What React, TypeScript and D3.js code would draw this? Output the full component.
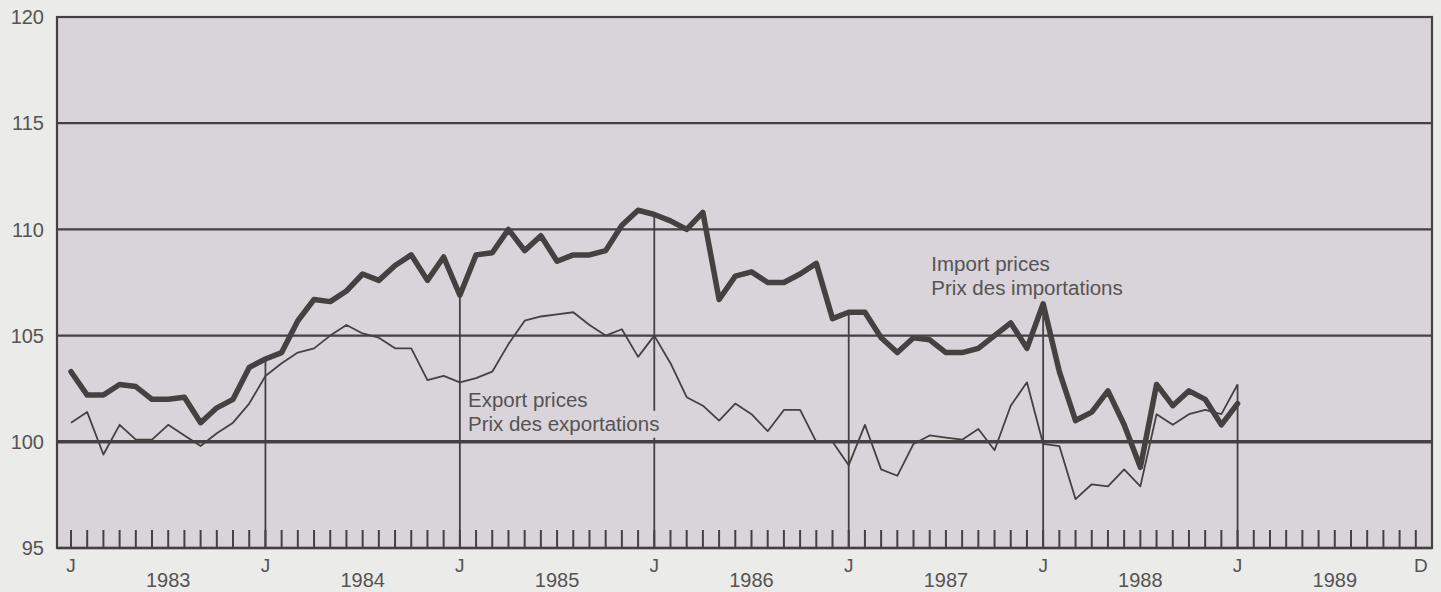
import React, { useRef, useEffect } from 'react';
import * as d3 from 'd3';

// monthly index values, Jan 1983 .. Jan 1989
const importPrices = [
  103.3, 102.2, 102.2, 102.7, 102.6, 102.0, 102.0, 102.1, 100.9, 101.6, 102.0, 103.5,
  103.9, 104.2, 105.7, 106.7, 106.6, 107.1, 107.9, 107.6, 108.3, 108.8, 107.6, 108.7,
  106.9, 108.8, 108.9, 110.0, 109.0, 109.7, 108.5, 108.8, 108.8, 109.0, 110.2, 110.9,
  110.7, 110.4, 110.0, 110.8, 106.7, 107.8, 108.0, 107.5, 107.5, 107.9, 108.4, 105.8,
  106.1, 106.1, 104.9, 104.2, 104.9, 104.8, 104.2, 104.2, 104.4, 105.0, 105.6, 104.4,
  106.5, 103.3, 101.0, 101.4, 102.4, 100.8, 98.8, 102.7, 101.7, 102.4, 102.0, 100.8,
  101.8,
];

const exportPrices = [
  100.9, 101.4, 99.4, 100.8, 100.1, 100.1, 100.8, 100.3, 99.8, 100.4, 100.9, 101.8,
  103.1, 103.7, 104.2, 104.4, 105.0, 105.5, 105.1, 104.9, 104.4, 104.4, 102.9, 103.1,
  102.8, 103.0, 103.3, 104.6, 105.7, 105.9, 106.0, 106.1, 105.5, 105.0, 105.3, 104.0,
  105.0, 103.7, 102.1, 101.7, 101.0, 101.8, 101.3, 100.5, 101.5, 101.5, 100.0, 100.0,
  98.9, 100.8, 98.7, 98.4, 99.9, 100.3, 100.2, 100.1, 100.6, 99.6, 101.7, 102.8,
  99.9, 99.8, 97.3, 98.0, 97.9, 98.7, 97.9, 101.3, 100.8, 101.3, 101.5, 101.3,
  102.7,
];

const years = ['1983', '1984', '1985', '1986', '1987', '1988', '1989'];
const yTicks = [95, 100, 105, 110, 115, 120];
const gridValues = [100, 105, 110, 115];
const exportLabel = ['Export prices', 'Prix des exportations'];
const importLabel = ['Import prices', 'Prix des importations'];

const WIDTH = 1441;
const HEIGHT = 592;
const PAGE_BG = '#ebebe9';
const PLOT_BG = '#d8d4da';
const INK = '#454141';
const TEXT = '#555353';
const FONT = '"Liberation Sans", Arial, Helvetica, sans-serif';

export default function App() {
  const svgRef = useRef<SVGSVGElement>(null);

  useEffect(() => {
    if (!svgRef.current) return;
    const svg = d3.select(svgRef.current);
    svg.selectAll('*').remove();

    const nMonths = years.length * 12;
    const x = d3.scaleLinear().domain([0, nMonths]).range([71, 1432]);
    const y = d3.scaleLinear().domain([95, 120]).range([548, 17]);
    const plotLeft = 57;

    svg.append('rect').attr('width', WIDTH).attr('height', HEIGHT).attr('fill', PAGE_BG);

    // plot area
    svg
      .append('rect')
      .attr('x', plotLeft)
      .attr('y', y(120))
      .attr('width', x(nMonths) - plotLeft)
      .attr('height', y(95) - y(120))
      .attr('fill', PLOT_BG);

    // horizontal grid
    gridValues.forEach((v) => {
      svg
        .append('line')
        .attr('x1', plotLeft)
        .attr('x2', x(nMonths))
        .attr('y1', y(v))
        .attr('y2', y(v))
        .attr('stroke', INK)
        .attr('stroke-width', v === 100 ? 3.5 : 2.2);
    });

    // month ticks
    d3.range(nMonths).forEach((m) => {
      svg
        .append('line')
        .attr('x1', x(m))
        .attr('x2', x(m))
        .attr('y1', y(95))
        .attr('y2', y(95) - 18)
        .attr('stroke', INK)
        .attr('stroke-width', 2);
    });

    // January drop lines from the higher of the two series
    d3.range(12, importPrices.length, 12).forEach((m) => {
      const top = Math.max(importPrices[m], exportPrices[m]);
      svg
        .append('line')
        .attr('x1', x(m))
        .attr('x2', x(m))
        .attr('y1', y(top))
        .attr('y2', y(95))
        .attr('stroke', INK)
        .attr('stroke-width', 1.8);
    });

    const line = d3
      .line<number>()
      .x((_, i) => x(i))
      .y((d) => y(d));

    svg
      .append('path')
      .datum(exportPrices)
      .attr('d', line)
      .attr('fill', 'none')
      .attr('stroke', INK)
      .attr('stroke-width', 1.8)
      .attr('stroke-linejoin', 'round');

    svg
      .append('path')
      .datum(importPrices)
      .attr('d', line)
      .attr('fill', 'none')
      .attr('stroke', INK)
      .attr('stroke-width', 5.5)
      .attr('stroke-linejoin', 'round')
      .attr('stroke-linecap', 'round');

    // series labels
    const addLabel = (lines: string[], m: number, v: number, knockout: boolean) => {
      const g = svg.append('g');
      lines.forEach((txt, i) => {
        const t = g
          .append('text')
          .attr('x', x(m))
          .attr('y', y(v) + i * 24)
          .attr('font-family', FONT)
          .attr('font-size', 20.5)
          .attr('fill', TEXT)
          .text(txt);
        if (knockout && i === lines.length - 1) {
          const b = (t.node() as SVGTextElement).getBBox();
          g.insert('rect', 'text')
            .attr('x', b.x - 2)
            .attr('y', b.y - 1)
            .attr('width', b.width + 6)
            .attr('height', b.height + 4)
            .attr('fill', PLOT_BG);
        }
      });
    };
    addLabel(exportLabel, 24.5, 101.65, true);
    addLabel(importLabel, 53.1, 108.05, false);

    // border and axis
    svg
      .append('rect')
      .attr('x', plotLeft)
      .attr('y', y(120))
      .attr('width', x(nMonths) - plotLeft)
      .attr('height', y(95) - y(120))
      .attr('fill', 'none')
      .attr('stroke', INK)
      .attr('stroke-width', 2.2);
    svg
      .append('line')
      .attr('x1', plotLeft)
      .attr('x2', x(nMonths))
      .attr('y1', y(95))
      .attr('y2', y(95))
      .attr('stroke', INK)
      .attr('stroke-width', 2.5);

    // y labels
    yTicks.forEach((v) => {
      svg
        .append('text')
        .attr('x', 44)
        .attr('y', y(v))
        .attr('dy', '0.36em')
        .attr('text-anchor', 'end')
        .attr('font-family', FONT)
        .attr('font-size', 20)
        .attr('fill', TEXT)
        .text(v);
    });

    // x labels
    years.forEach((yr, i) => {
      svg
        .append('text')
        .attr('x', x(i * 12))
        .attr('y', 572)
        .attr('text-anchor', 'middle')
        .attr('font-family', FONT)
        .attr('font-size', 19)
        .attr('fill', TEXT)
        .text('J');
      svg
        .append('text')
        .attr('x', x(i * 12 + 6))
        .attr('y', 587)
        .attr('text-anchor', 'middle')
        .attr('font-family', FONT)
        .attr('font-size', 20)
        .attr('fill', TEXT)
        .text(yr);
    });
    svg
      .append('text')
      .attr('x', x(nMonths - 1) + 5)
      .attr('y', 572)
      .attr('text-anchor', 'middle')
      .attr('font-family', FONT)
      .attr('font-size', 19)
      .attr('fill', TEXT)
      .text('D');
  }, []);

  return (
    <svg
      ref={svgRef}
      width={WIDTH}
      height={HEIGHT}
      style={{ position: 'absolute', left: 0, top: 0, display: 'block' }}
    />
  );
}
